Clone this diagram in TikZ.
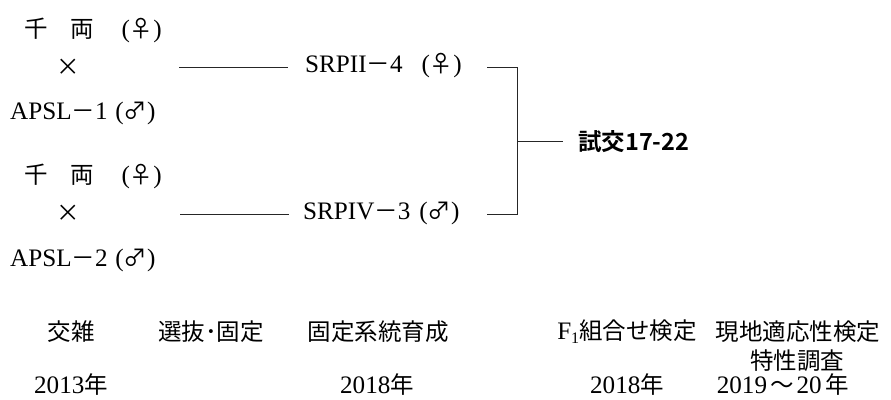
\documentclass[tikz,border=0pt]{standalone}
\usepackage{fontspec}
\setmainfont{Liberation Serif}[Scale=1.07]
\newfontfamily\jp{Noto Sans CJK JP}
\newfontfamily\jpb{Noto Sans CJK JP Bold}
\begin{document}
\begin{tikzpicture}[x=1pt,y=-1pt,
  lbl/.style={inner sep=0pt,font=\fontsize{23.5}{28}\selectfont},
  conn/.style={line width=0.9pt,black!85}]
\useasboundingbox (0,0) rectangle (891,399);
% group 1
\node[lbl] (s1) at (93,30) {{\jp 千}\hspace{0.9em}{\jp 両}\hspace{1.1em}({\jp ♀})};
\node[lbl] (x1) at (68,67) {{\jp ×}};
\node[lbl,anchor=west] (a1) at (10,113) {APSL{\jp －}1\hspace{0.3em}({\jp ♂})};
% group 2
\node[lbl] (s2) at (93,176) {{\jp 千}\hspace{0.9em}{\jp 両}\hspace{1.1em}({\jp ♀})};
\node[lbl] (x2) at (68,213) {{\jp ×}};
\node[lbl,anchor=west] (a2) at (10,260) {APSL{\jp －}2\hspace{0.3em}({\jp ♂})};
% lines
\coordinate (l1a) at (179,67);
\coordinate (l1b) at (288,67);
\coordinate (l2a) at (180,214);
\coordinate (l2b) at (289,214);
\draw[conn] (l1a) -- (l1b);
\draw[conn] (l2a) -- (l2b);
\node[lbl,anchor=west] (p1) at (305,66) {SRPII{\jp －}4\hspace{0.75em}({\jp ♀})};
\node[lbl,anchor=west] (p2) at (303,213) {SRPIV{\jp －}3\hspace{0.35em}({\jp ♂})};
\coordinate (r1) at (487,67);
\coordinate (r2) at (487,214);
\coordinate (v1) at (517,67);
\coordinate (v2) at (517,214);
\coordinate (vm) at (517,141);
\coordinate (hm) at (563,141);
\draw[conn] (r1) -- (v1) -- (v2) -- (r2);
\draw[conn] (vm) -- (hm);
\node[lbl,anchor=west] (t) at (578,142) {\jpb 試交17-22};
% bottom
\node[lbl] (b1) at (71,332) {\jp 交雑};
\node[lbl] (b2) at (211,332) {\jp 選抜･固定};
\node[lbl] (b3) at (378,332) {\jp 固定系統育成};
\node[lbl] (b4) at (627,332) {F\raisebox{-0.35ex}{\fontsize{15}{15}\selectfont 1}{\jp 組合せ検定}};
\node[lbl] (b5) at (798,332) {\jp 現地適応性検定};
\node[lbl] (b6) at (797,361) {\jp 特性調査};
\node[lbl] (y1) at (71,385) {2013{\jp 年}};
\node[lbl] (y2) at (377,385) {2018{\jp 年}};
\node[lbl] (y3) at (627,385) {2018{\jp 年}};
\node[lbl] (y4) at (783,385) {2019\hspace{3pt}{\jp 〜}\hspace{3pt}20\hspace{4pt}{\jp 年}};
\end{tikzpicture}
\end{document}
